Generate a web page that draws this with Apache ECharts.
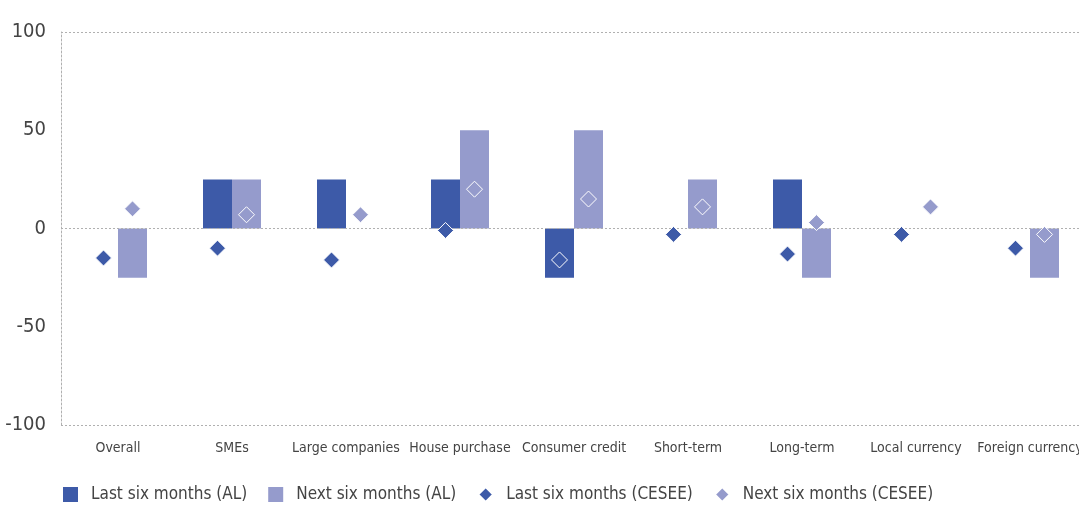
<!doctype html>
<html lang="en">
<head>
<meta charset="UTF-8">
<title>Credit conditions</title>
<script src="https://cdn.jsdelivr.net/npm/echarts@6/dist/echarts.min.js"></script>
<style>
  html, body { margin: 0; padding: 0; background: #fff; }
  #main { width: 1079px; height: 505px; }
</style>
</head>
<body>
<div id="main"></div>
<script type="text/javascript">
    // categories and values
    var categories = ['Overall', 'SMEs', 'Large companies', 'House purchase', 'Consumer credit',
        'Short-term', 'Long-term', 'Local currency', 'Foreign currency'];
    var lastAL = [0, 25, 25, 25, -25, 0, 25, 0, 0];
    var nextAL = [-25, 25, 0, 50, 50, 25, -25, 0, -25];
    var lastCESEE = [-15, -10, -16, -1, -16, -3, -13, -3, -10];
    var nextCESEE = [10, 7, 7, 20, 15, 11, 3, 11, -3];
    var yTicks = [-100, -50, 0, 50, 100];

    var dark = '#3d5aa8';
    var light = '#959bcc';
    var font = '"DejaVu Sans", sans-serif';
    // font-stretch keyword goes in front of the canvas font string
    var narrow = 'condensed';

    var myChart = echarts.init(document.getElementById('main'));

    var option = {
        animation: false,
        textStyle: { fontFamily: font, fontStyle: narrow },
        grid: { left: 61, right: -8, top: 32, bottom: 80, outerBoundsMode: 'none' },
        legend: {
            left: 58,
            top: 481,
            itemWidth: 15,
            itemHeight: 15,
            itemGap: 21,
            textStyle: { fontSize: 17, color: '#444', fontFamily: font, fontStyle: narrow, padding: [0, 0, 0, 8] },
            data: [
                { name: 'Last six months (AL)', icon: 'rect' },
                { name: 'Next six months (AL)', icon: 'rect' },
                { name: 'Last six months (CESEE)', icon: 'diamond' },
                { name: 'Next six months (CESEE)', icon: 'diamond' }
            ]
        },
        xAxis: {
            type: 'category',
            data: categories,
            axisLine: { show: false },
            axisTick: { show: false },
            axisLabel: { color: '#444', fontSize: 14, margin: 16, interval: 0, fontFamily: font, fontStyle: narrow }
        },
        yAxis: {
            type: 'value',
            min: yTicks[0],
            max: yTicks[yTicks.length - 1],
            interval: 50,
            splitLine: { show: false },
            axisLine: { show: true, lineStyle: { color: '#b0b0b0', type: [2, 2], width: 1 } },
            axisTick: { show: false },
            axisLabel: { color: '#444', fontSize: 20, margin: 15, fontFamily: font, fontStyle: narrow }
        },
        series: [
            {
                name: 'Last six months (AL)',
                type: 'bar',
                data: lastAL,
                barWidth: 29,
                barGap: '0%',
                itemStyle: { color: dark },
                markLine: {
                    silent: true,
                    symbol: 'none',
                    label: { show: false },
                    lineStyle: { color: '#b0b0b0', type: [2, 2], width: 1 },
                    data: [{ yAxis: 100 }, { yAxis: 0 }, { yAxis: -100 }]
                }
            },
            {
                name: 'Next six months (AL)',
                type: 'bar',
                data: nextAL,
                barWidth: 29,
                itemStyle: { color: light }
            },
            {
                name: 'Last six months (CESEE)',
                type: 'scatter',
                data: lastCESEE,
                symbol: 'diamond',
                symbolSize: 16,
                symbolOffset: [-14.5, 0],
                z: 5,
                itemStyle: { color: dark, borderColor: '#fff', borderWidth: 1, opacity: 1 }
            },
            {
                name: 'Next six months (CESEE)',
                type: 'scatter',
                data: nextCESEE,
                symbol: 'diamond',
                symbolSize: 16,
                symbolOffset: [14.5, 0],
                z: 5,
                itemStyle: { color: light, borderColor: '#fff', borderWidth: 1, opacity: 1 }
            }
        ]
    };

    myChart.setOption(option);
</script>
</body>
</html>
